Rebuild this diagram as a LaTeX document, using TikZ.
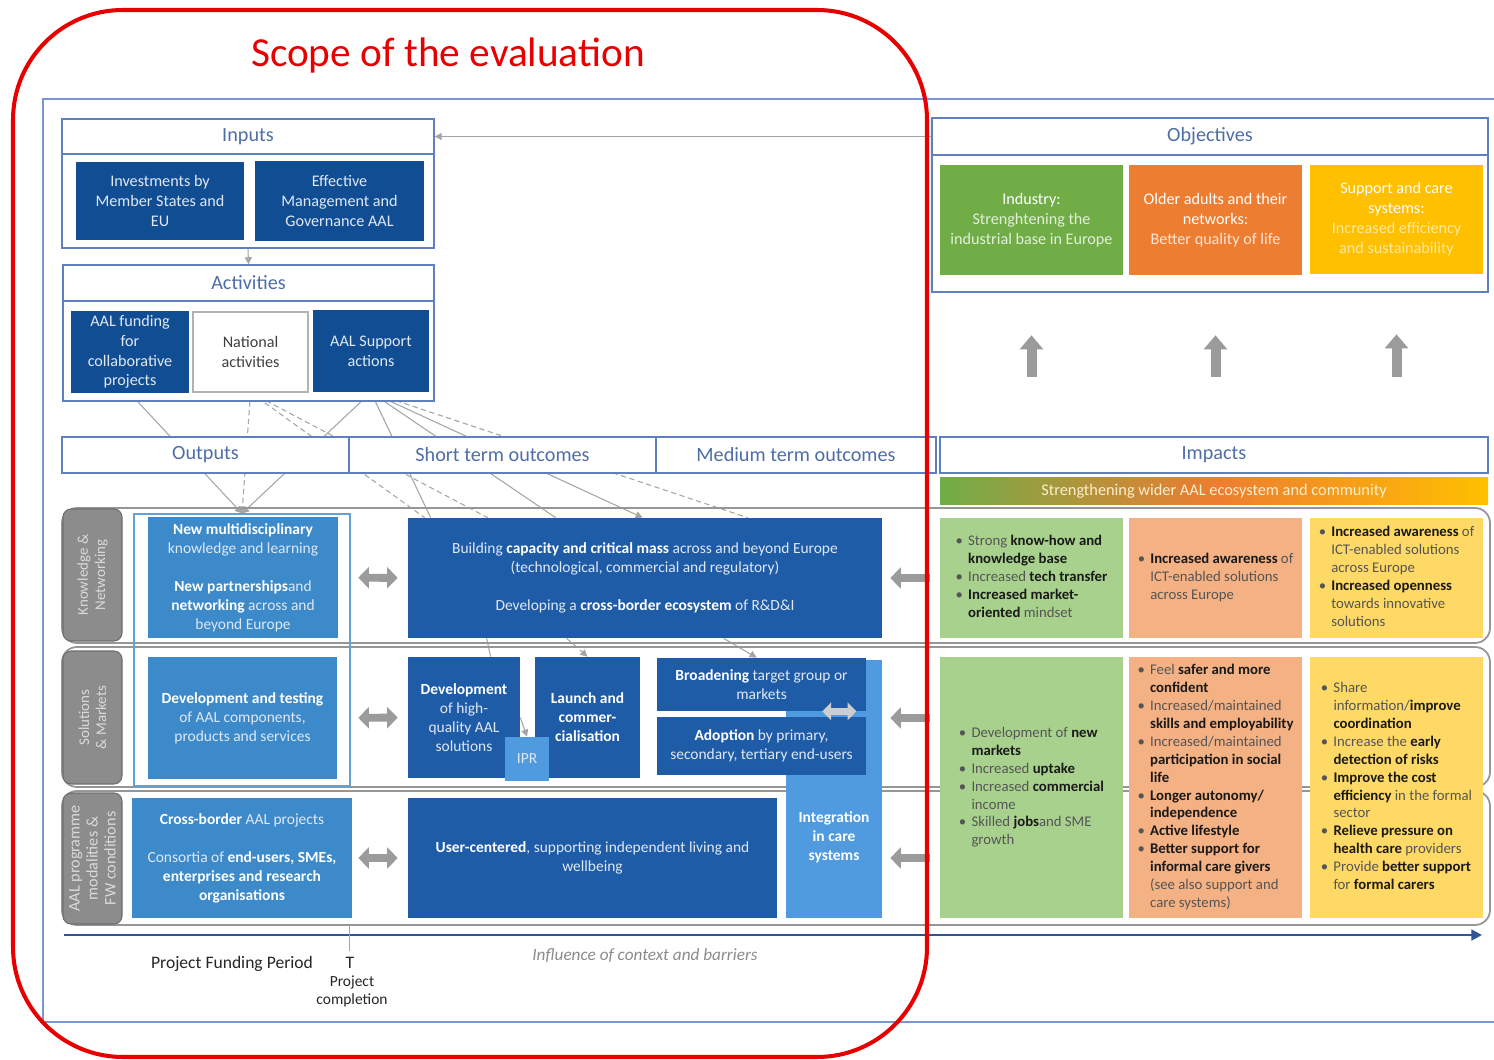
\documentclass[tikz,border=0pt]{standalone}
\usepackage{fontspec}
\setmainfont{Carlito}
\usetikzlibrary{arrows.meta,calc}
\pgfdeclarelayer{back}
\pgfdeclarelayer{links}
\pgfsetlayers{back,links,main}

\definecolor{navy}{RGB}{17,77,147}
\definecolor{stblue}{RGB}{30,92,168}
\definecolor{outblue}{RGB}{60,138,202}
\definecolor{ltblue}{RGB}{80,154,224}
\definecolor{hdrline}{RGB}{95,128,192}
\definecolor{frameblue}{RGB}{120,150,210}
\definecolor{hdrtext}{RGB}{78,110,168}
\definecolor{boxtext}{RGB}{224,232,243}
\definecolor{conn}{RGB}{165,165,165}
\definecolor{arrgray}{RGB}{155,155,155}
\definecolor{arrlight}{RGB}{205,205,205}
\definecolor{lblfill}{RGB}{140,140,140}
\definecolor{lblline}{RGB}{110,110,110}
\definecolor{lbltxt}{RGB}{218,218,218}
\definecolor{bandline}{RGB}{150,150,150}
\definecolor{ogreen}{RGB}{112,173,71}
\definecolor{oorange}{RGB}{237,125,49}
\definecolor{oyellow}{RGB}{255,192,0}
\definecolor{igreen}{RGB}{169,209,142}
\definecolor{iorange}{RGB}{244,177,131}
\definecolor{iyellow}{RGB}{255,217,102}
\definecolor{paleG}{RGB}{226,239,218}
\definecolor{paleO}{RGB}{251,229,214}
\definecolor{paleY}{RGB}{255,232,160}
\definecolor{gradtext}{RGB}{252,238,205}
\definecolor{imptext}{RGB}{85,85,85}
\definecolor{impbold}{RGB}{25,25,25}
\definecolor{scopered}{RGB}{232,0,0}
\definecolor{tline}{RGB}{47,85,151}

\newcommand\fs[2]{\fontsize{#1}{#2}\selectfont}
\newcommand\wb[1]{\textbf{\color{white}#1}}
\newcommand\kb[1]{\textbf{\color{impbold}#1}}
\newcommand\bu{\makebox[0.85em][l]{\textbullet}}
\newcommand\nb{\hspace*{0.85em}}
\newcommand\ilist[1]{\begin{tabular}{@{}l@{}}#1\end{tabular}}
% box spanning the corners (x1,y1)-(x2,y2), given in units of the picture
\newcommand\B[7]{\node[#1, inner sep=0pt, minimum width={(#5-#3)*0.02cm}, minimum height={(#6-#4)*0.02cm}] (#2) at ({(#3+#5)/2},{(#4+#6)/2}) {#7};}

\begin{document}
\begin{tikzpicture}[x=0.02cm,y=-0.02cm,
  hdr/.style={draw=hdrline, line width=0.8pt, fill=white, text=hdrtext, font=\fs{11.5}{13}},
  panel/.style={draw=hdrline, line width=0.8pt, fill=white},
  dbox/.style={fill=navy, text=boxtext, align=center, font=\fs{9.2}{11.2}},
  nbox/.style={fill=white, draw=black!30, line width=0.6pt, text=black!75, align=center, font=\fs{9.2}{11.2}},
  obox/.style={fill=outblue, text=boxtext, align=center, font=\fs{8.8}{10.8}},
  sbox/.style={fill=stblue, text=boxtext, align=center, font=\fs{8.8}{10.8}},
  lbox/.style={fill=ltblue, text=boxtext, align=center, font=\fs{8.8}{10.8}},
  oframe/.style={draw=outblue!80, line width=0.6pt},
  band/.style={draw=bandline, line width=1pt, rounded corners=0.3cm},
  lbl/.style={fill=lblfill, draw=lblline, line width=0.6pt, rounded corners=0.16cm},
  lbltext/.style={rotate=90, text=lbltxt, align=center},
  objbox/.style={align=center, font=\fs{9.2}{11.4}},
  ibox/.style={text=imptext, font=\fs{8.4}{10.2}},
  gradband/.style={left color=ogreen, right color=oyellow, middle color=oorange, text=gradtext, font=\fs{9.3}{11}},
  link/.style={draw=conn, line width=0.6pt},
  tip/.style={-{Triangle[length=4pt,width=4pt]}},
  dashd/.style={dash pattern=on 3pt off 2pt},
  dbl/.style={draw=arrgray, line width=4.5pt, {Triangle[length=6pt,width=12pt]}-{Triangle[length=6pt,width=12pt]}},
  dbllight/.style={draw=arrlight, line width=4pt, {Triangle[length=5pt,width=10pt]}-{Triangle[length=5pt,width=10pt]}},
  sgl/.style={draw=arrgray, line width=4.5pt, -{Triangle[length=6pt,width=12pt]}},
  uparr/.style={draw=arrgray, line width=5.7pt, -{Triangle[length=8pt,width=13pt]}},
  timeline/.style={draw=tline, line width=1.7pt, -{Triangle[length=6pt,width=6pt]}}
]
\useasboundingbox (0,0) rectangle (1494,1060);
\begin{pgfonlayer}{back}
  \fill[white] (0,0) rectangle (1494,1060);
  \draw[frameblue, line width=0.8pt] (1494,99) -- (43,99) -- (43,1022) -- (1494,1022);
\end{pgfonlayer}

% ---------- Inputs ----------
\B{hdr}{inpH}{62}{119}{434}{154}{Inputs}
\B{panel}{inpB}{62}{154}{434}{248}{}
\B{dbox}{inv}{76}{162}{244}{240}{Investments by\\Member States and\\EU}
\B{dbox}{mgmt}{255}{161}{424}{241}{Effective\\Management and\\Governance AAL}

% ---------- Activities ----------
\B{hdr}{actH}{63}{265}{434}{301}{Activities}
\B{panel}{actB}{63}{301}{434}{401}{}
\B{dbox}{fund}{71}{311}{189}{393}{AAL funding\\for\\collaborative\\projects}
\B{nbox}{nat}{193}{312}{308}{392}{National\\activities}
\B{dbox}{supp}{313}{310}{429}{392}{AAL Support\\actions}

% ---------- Objectives ----------
\B{hdr}{objH}{932}{118}{1488}{155}{Objectives}
\B{panel}{objB}{932}{155}{1488}{292}{}
\B{objbox, fill=ogreen, text=paleG}{objG}{940}{165}{1123}{275}{{\color{white}Industry:}\\Strenghtening the\\industrial base in Europe}
\B{objbox, fill=oorange, text=paleO}{objO}{1129}{165}{1302}{275}{{\color{white}Older adults and their}\\{\color{white}networks:}\\Better quality of life}
\B{objbox, fill=oyellow, text=paleY}{objY}{1310}{165}{1483}{274}{{\color{white!96!yellow}Support and care}\\{\color{white!96!yellow}systems:}\\Increased efficiency\\and sustainability}

% ---------- column headers ----------
\B{hdr}{outH}{62}{437}{349}{473}{Outputs}
\B{hdr}{stH}{349}{437}{656}{473}{Short term outcomes}
\B{hdr}{mtH}{656}{437}{936}{473}{Medium term outcomes}
\B{hdr}{impH}{940}{437}{1488}{473}{Impacts}
\B{gradband}{grad}{940}{478}{1488}{505}{Strengthening wider AAL ecosystem and community}

% ---------- row bands and row labels ----------
\B{band}{band1}{62}{508}{1490}{643}{}
\B{band}{band2}{62}{647}{1490}{787}{}
\B{band}{band3}{62}{791}{1490}{925}{}
\B{lbl}{lbl1}{63}{509}{122}{641}{}
\B{lbl}{lbl2}{63}{651}{122}{784}{}
\B{lbl}{lbl3}{63}{793}{122}{924}{}
\node[lbltext, font=\fs{8.5}{9.8}] (lbl1t) at (lbl1.center) {Knowledge \&\\Networking};
\node[lbltext, font=\fs{8.5}{9.8}] (lbl2t) at (lbl2.center) {Solutions\\\& Markets};
\node[lbltext, font=\fs{9.2}{10.3}] (lbl3t) at (lbl3.center) {AAL programme\\modalities \&\\FW conditions};

% ---------- outputs ----------
\B{oframe}{oFrame}{134}{514}{350}{786}{}
\B{obox}{out1}{148}{517}{338}{638}{\wb{New multidisciplinary}\\knowledge and learning\\[10.8pt]\wb{New partnerships}and\\\wb{networking} across and\\beyond Europe}
\B{obox}{out2}{148}{657}{337}{779}{\wb{Development and testing}\\of AAL components,\\products and services}
\B{obox}{out3}{132}{798}{352}{918}{\wb{Cross-border} AAL projects\\[10.8pt]Consortia of \wb{end-users, SMEs,}\\\wb{enterprises and research}\\\wb{organisations}}

% ---------- short and medium term outcomes ----------
\B{sbox}{build}{408}{518}{882}{638}{Building \wb{capacity and critical mass} across and beyond Europe\\(technological, commercial and regulatory)\\[10.8pt]Developing a \wb{cross-border ecosystem} of R\&D\&I}
\B{sbox}{dev}{408}{657}{520}{778}{\wb{Development}\\of high-\\quality AAL\\solutions}
\B{sbox}{launch}{535}{657}{640}{778}{\wb{Launch and}\\\wb{commer-}\\\wb{cialisation}}
\B{lbox}{ipr}{505}{737}{549}{781}{IPR}
\B{lbox}{intg}{786}{660}{882}{918}{}
\B{sbox}{broad}{657}{658}{866}{711}{\wb{Broadening} target group or\\markets}
\B{sbox}{adopt}{657}{717}{866}{775}{\wb{Adoption} by primary,\\secondary, tertiary end-users}
\B{sbox}{user}{408}{798}{777}{918}{\wb{User-centered}, supporting independent living and\\wellbeing}
\node[lbox, fill=none, inner sep=0pt] (intgt) at (834,837) {\wb{Integration}\\\wb{in care}\\\wb{systems}};

% ---------- impacts ----------
\B{ibox, fill=igreen}{impG1}{940}{518}{1123}{638}{\ilist{\bu Strong \kb{know-how and}\\\nb\kb{knowledge base}\\\bu Increased \kb{tech transfer}\\\bu\kb{Increased market-}\\\nb\kb{oriented} mindset}}
\B{ibox, fill=iorange}{impO1}{1129}{518}{1302}{638}{\ilist{\bu\kb{Increased awareness} of\\\nb ICT-enabled solutions\\\nb across Europe}}
\B{ibox, fill=iyellow}{impY1}{1310}{518}{1483}{638}{\ilist{\bu\kb{Increased awareness} of\\\nb ICT-enabled solutions\\\nb across Europe\\\bu\kb{Increased openness}\\\nb towards innovative\\\nb solutions}}
\B{ibox, fill=igreen}{impG2}{940}{657}{1123}{918}{\ilist{\bu Development of \kb{new}\\\nb\kb{markets}\\\bu Increased \kb{uptake}\\\bu Increased \kb{commercial}\\\nb income\\\bu Skilled \kb{jobs}and SME\\\nb growth}}
\B{ibox, fill=iorange}{impO2}{1129}{657}{1302}{918}{\ilist{\bu Feel \kb{safer and more}\\\nb\kb{confident}\\\bu Increased/maintained\\\nb\kb{skills and employability}\\\bu Increased/maintained\\\nb\kb{participation in social}\\\nb\kb{life}\\\bu\kb{Longer autonomy/}\\\nb\kb{independence}\\\bu\kb{Active lifestyle}\\\bu\kb{Better support for}\\\nb\kb{informal care givers}\\\nb(see also support and\\\nb care systems)}}
\B{ibox, fill=iyellow}{impY2}{1310}{657}{1483}{918}{\ilist{\bu Share\\\nb information/\kb{improve}\\\nb\kb{coordination}\\\bu Increase the \kb{early}\\\nb\kb{detection of risks}\\\bu\kb{Improve the cost}\\\nb\kb{efficiency} in the formal\\\nb sector\\\bu\kb{Relieve pressure on}\\\nb\kb{health care} providers\\\bu Provide \kb{better support}\\\nb for \kb{formal carers}}}

% ---------- timeline ----------
\coordinate (tlA) at (64,935);
\coordinate (tlB) at (1482,935);
\coordinate (tTop) at (349,925);
\coordinate (tBot) at (349,951);
\draw[timeline] (tlA) -- (tlB);
\draw[draw=conn, line width=0.5pt] (tTop) -- (tBot);
\node[font=\fs{10}{12}, text=black!85] (pfp) at (232,964) {Project Funding Period};
\node[font=\fs{10}{12}, text=black!85] (tlbl) at (350,963) {T};
\node[font=\fs{8.8}{10.2}, text=black!85, align=center] (pc) at (352,991) {Project\\completion};
\node[font=\fs{9.8}{12}\itshape, text=black!45] (infl) at (645,956) {Influence of context and barriers};

% ---------- thin connectors (behind the boxes) ----------
\begin{pgfonlayer}{links}
  \draw[link, tip] (objH.west) -- (inpH.east);
  \draw[link, tip] (inpB.south) -- (actH.north);
  \draw[link, tip] (fund.south) -- (oFrame.north);
  \draw[link, dashd, tip] (nat.south) -- (oFrame.north);
  \draw[link, tip] (supp.south) -- (oFrame.north);
  \draw[link, dashd] (nat.south) -- ([xshift=0.34cm]build.north west);
  \draw[link, dashd] (nat.south) -- ([xshift=1.6cm]build.north west);
  \draw[link] (supp.south) -- ([xshift=0.46cm]build.north west);
  \draw[link] (supp.south) -- ([xshift=2.96cm]build.north west);
  \draw[link, tip] (supp.south) -- ([xshift=4.7cm]build.north west);
  \draw[link, dashd] (supp.south) -- ([xshift=6.8cm]build.north west);
  \draw[link] ([xshift=1.58cm]build.south west) -- ([xshift=1.66cm]dev.north west);
  \draw[link, dashd, tip] ([xshift=3.18cm]build.south west) -- (launch.north);
  \draw[link, tip] ([xshift=6.32cm]build.south west) -- ([xshift=2cm]broad.north west);
\end{pgfonlayer}
\draw[link, tip] (dev.east) -- (ipr.north);

% ---------- block arrows ----------
\draw[dbl, shorten <=0.4cm, shorten >=0.2cm] (out1.east) -- (build.west);
\draw[dbl, shorten <=0.42cm, shorten >=0.2cm] (out2.east) -- (dev.west);
\draw[dbl, shorten <=0.12cm, shorten >=0.2cm] (out3.east) -- (user.west);
\draw[dbllight] ([xshift=-0.88cm]broad.south east) -- ([xshift=-0.2cm]broad.south east);
\draw[sgl, shorten <=0.2cm, shorten >=0.16cm] (impG1.west) -- (build.east);
\draw[sgl, shorten <=0.2cm, shorten >=0.16cm] (impG2.west |- out2.east) -- (intg.east |- out2.east);
\draw[sgl, shorten <=0.2cm, shorten >=0.16cm] (impG2.west |- out3.east) -- (intg.east |- out3.east);
\draw[uparr, shorten <=1.18cm, shorten >=1.2cm] (impH.north -| objG.south) -- (objG.south);
\draw[uparr, shorten <=1.18cm, shorten >=1.2cm] (impH.north -| objO.south) -- (objO.south);
\draw[uparr, shorten <=1.18cm, shorten >=1.2cm] (impH.north -| objY.south) -- (objY.south);

% ---------- scope of the evaluation ----------
\draw[scopered, line width=2.3pt, rounded corners=2.2cm] (13,10) rectangle (927,1057);
\node[text=scopered, font=\fs{23.5}{28}] (scope) at (448,55) {Scope of the evaluation};
\end{tikzpicture}
\end{document}
